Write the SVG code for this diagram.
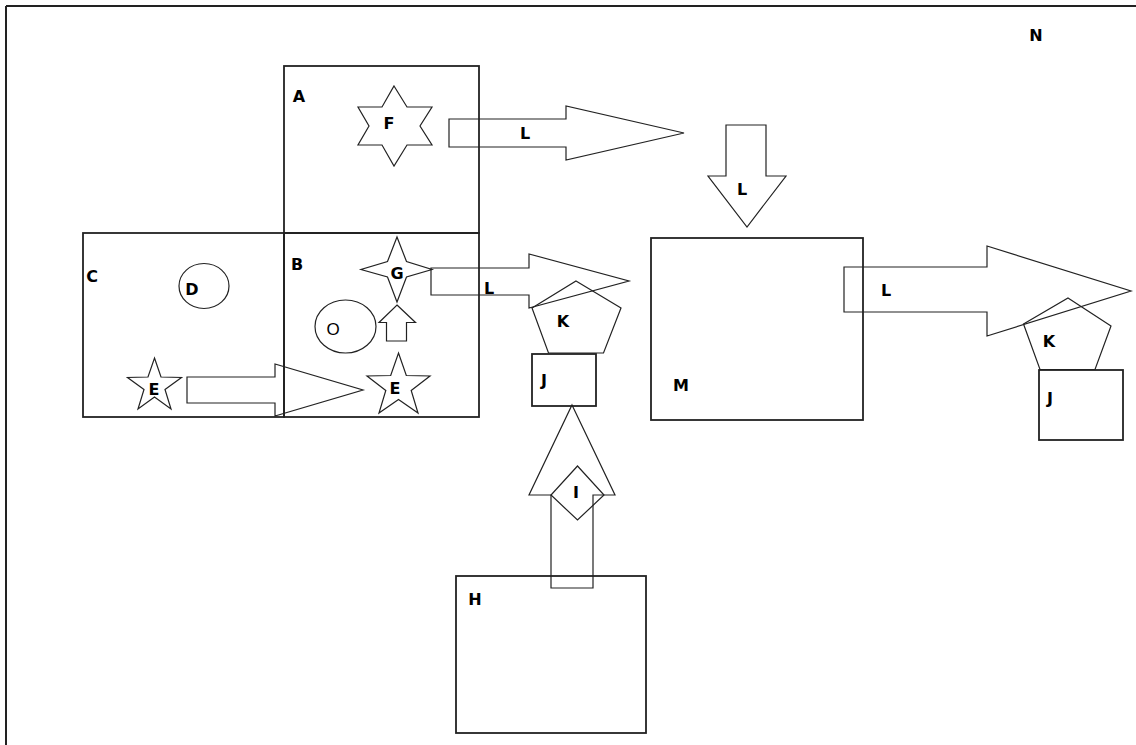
<svg xmlns="http://www.w3.org/2000/svg" width="1136" height="745" viewBox="0 0 1136 745">
  <style>
    .box { fill: none; stroke: #222; stroke-width: 1.8; }
    .shape { fill: none; stroke: #222; stroke-width: 1.2; stroke-linejoin: miter; }
    .lbl { font-family: "DejaVu Sans", Verdana, sans-serif; font-weight: bold; font-size: 16px; fill: #000; text-anchor: middle; }
    .lbl-thin { font-family: "Liberation Sans", Arial, sans-serif; font-size: 17px; fill: #000; text-anchor: middle; }
  </style>
  <rect x="0" y="0" width="1136" height="745" fill="#fff"/>

  <!-- page frame: top and left edges only -->
  <g id="frame">
    <line x1="6" y1="6" x2="1136" y2="6" stroke="#222" stroke-width="2"/>
    <line x1="6" y1="6" x2="6" y2="745" stroke="#222" stroke-width="2"/>
  </g>

  <g id="node-A">
    <rect class="box" x="284" y="66" width="195" height="167"/>
    <text class="lbl" x="299" y="102">A</text>
  </g>

  <g id="node-B">
    <rect class="box" x="284" y="233" width="195" height="184"/>
    <text class="lbl" x="297" y="270">B</text>
  </g>

  <g id="node-C">
    <rect class="box" x="83" y="233" width="201" height="184"/>
    <text class="lbl" x="92" y="282">C</text>
  </g>

  <g id="node-F">
    <polygon class="shape" points="394,86 407,107 432,107 420,126 432,145 407,145 394,166 382,145 358,145 369,126 358,107 382,107"/>
    <text class="lbl" x="389" y="129">F</text>
  </g>

  <g id="node-G">
    <polygon class="shape" points="397,237 406.5,261.5 432,269.5 406.5,277 397,302 387.5,277 361,269.5 387.5,261.5"/>
    <text class="lbl" x="397" y="279">G</text>
  </g>

  <g id="node-D">
    <ellipse class="shape" cx="204" cy="286" rx="25" ry="22.5"/>
    <text class="lbl" x="192" y="295">D</text>
  </g>

  <g id="node-O">
    <ellipse class="shape" cx="345.5" cy="326.5" rx="30.5" ry="26.5"/>
    <text class="lbl-thin" x="333" y="335">O</text>
  </g>

  <g id="node-E1">
    <polygon class="shape" points="154.5,358 161,377 181.5,377.5 165,389.5 171,409 154.5,397 138,409 144,389.5 127.5,377.5 148,377"/>
    <text class="lbl" x="154" y="395">E</text>
  </g>

  <g id="node-E2">
    <polygon class="shape" points="398.5,353 406.3,375.5 430,376 411.2,390.5 418,413 398.5,399.5 379,413 385.8,390.5 367,376 390.7,375.5"/>
    <text class="lbl" x="395" y="394">E</text>
  </g>

  <g id="node-K1">
    <polygon class="shape" points="576,281 621,308 603.5,353 548.5,353 532,308"/>
    <text class="lbl" x="563" y="327">K</text>
  </g>

  <g id="node-J1">
    <rect class="box" x="532" y="354" width="64" height="52"/>
    <text class="lbl" x="544" y="386">J</text>
  </g>

  <g id="node-I">
    <polygon class="shape" points="577.5,466 604,495 577.5,520 551,495"/>
    <text class="lbl" x="576" y="498">I</text>
  </g>

  <g id="node-H">
    <rect class="box" x="456" y="576" width="190" height="157"/>
    <text class="lbl" x="475" y="605">H</text>
  </g>

  <g id="node-M">
    <rect class="box" x="651" y="238" width="212" height="182"/>
    <text class="lbl" x="681" y="391">M</text>
  </g>

  <g id="node-K2">
    <polygon class="shape" points="1068,298 1111,326 1095,369.5 1040,369.5 1023.5,324"/>
    <text class="lbl" x="1049" y="347">K</text>
  </g>

  <g id="node-J2">
    <rect class="box" x="1039" y="370" width="84" height="70"/>
    <text class="lbl" x="1050" y="404">J</text>
  </g>

  <g id="node-N">
    <text class="lbl" x="1036" y="41">N</text>
  </g>

  <!-- block arrows -->
  <g id="connectors">
    <polygon class="shape" points="449,119 566,119 566,106 684,133 566,160 566,147 449,147"/>
    <text class="lbl" x="525" y="139">L</text>

    <polygon class="shape" points="431,268 529,268 529,254 629,281 529,308 529,295 431,295"/>
    <text class="lbl" x="489" y="294">L</text>

    <polygon class="shape" points="726,125 766,125 766,176 786,176 747,227 708,176 726,176"/>
    <text class="lbl" x="742" y="195">L</text>

    <polygon class="shape" points="844,267 987,267 987,246 1131,291 987,336 987,312 844,312"/>
    <text class="lbl" x="886" y="296">L</text>

    <polygon class="shape" points="187,377 275,377 275,364 363,390 275,416 275,403 187,403"/>

    <polygon class="shape" points="397,305 415.5,322.5 406.5,322.5 406.5,341 386.5,341 386.5,322.5 379,322.5"/>

    <polygon class="shape" points="572,405 615,495 593,495 593,588 551,588 551,495 529,495"/>
  </g>
</svg>
